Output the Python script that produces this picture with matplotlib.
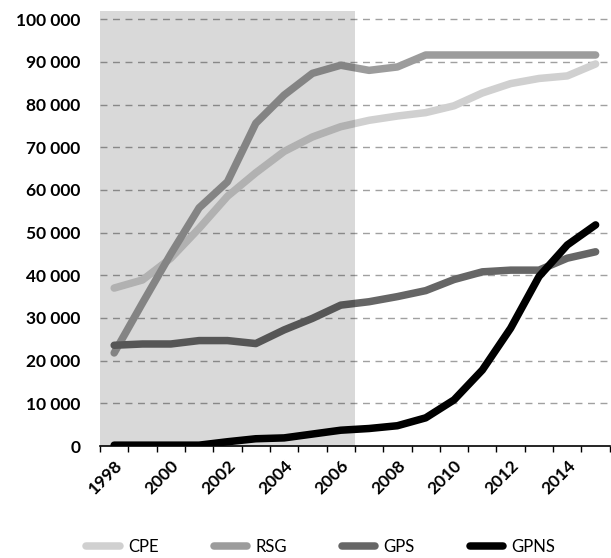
import matplotlib
matplotlib.use("Agg")
import matplotlib.pyplot as plt
import matplotlib.transforms as mtransforms
import numpy as np

years = list(range(1998, 2016))
cpe = [37000, 38900, 44000, 51000, 58500, 64000, 69000, 72400, 74800, 76300,
       77300, 78100, 79700, 82700, 84900, 86100, 86700, 89500]
rsg = [21800, 33500, 45000, 55800, 61900, 75600, 82200, 87300, 89200, 88000,
       88800, 91600, 91600, 91600, 91600, 91600, 91600, 91600]
gps = [23600, 23900, 23900, 24700, 24700, 24000, 27200, 29900, 33000, 33800,
       35000, 36400, 39000, 40800, 41200, 41200, 44000, 45500]
gpns = [200, 200, 200, 200, 1000, 1700, 1900, 2800, 3700, 4100,
        4750, 6600, 10800, 17800, 27600, 39700, 47100, 51800]
series_names = ["CPE", "RSG", "GPS", "GPNS"]
series_colors = ["#d0d0d0", "#9c9c9c", "#666666", "#000000"]
shade_last_year = 2006
y_ticks = list(range(0, 100001, 10000))

plt.rcParams['font.family'] = ['Lato', 'DejaVu Sans']

fig = plt.figure(figsize=(6.11, 5.58), dpi=100)
ax = fig.add_axes([0.1637, 0.2007, 0.8343, 0.7803])

x = np.arange(len(years))
for vals, name, col in zip([cpe, rsg, gps, gpns], series_names, series_colors):
    ax.plot(x, vals, color=col, lw=5.4, solid_capstyle='round',
            solid_joinstyle='round', label=name, zorder=2)

ax.set_xlim(-0.5, len(years) - 0.5)
ax.set_ylim(0, 102000)

# shaded period
ax.axvspan(-0.5, years.index(shade_last_year) + 0.5, color='black', alpha=0.15,
           lw=0, zorder=3)

# grid
for v in y_ticks[1:]:
    ax.axhline(v, color='#a0a0a0', lw=1.0, ls=(0, (5, 4)), zorder=1)

ax.set_yticks(y_ticks)
ax.set_yticklabels([f"{v:,}".replace(",", " ") for v in y_ticks],
                   fontsize=12.5, fontweight='bold')
ax.tick_params(axis='y', length=0, pad=14)

ax.set_xticks(x[::2])
ax.set_xticklabels([str(y) for y in years[::2]], rotation=45, ha='right',
                   rotation_mode='anchor', fontsize=12.5, fontweight='bold')
offset = mtransforms.ScaledTranslation(6 / 100, -9 / 100, fig.dpi_scale_trans)
for lab in ax.get_xticklabels():
    lab.set_transform(lab.get_transform() + offset)
ax.set_xticks(np.arange(-0.5, len(years), 1), minor=True)
ax.tick_params(axis='x', which='major', length=0, pad=8)
ax.tick_params(axis='x', which='minor', length=4, width=1, direction='out',
               color='black')

for s in ['left', 'right', 'top']:
    ax.spines[s].set_visible(False)
ax.spines['bottom'].set_color('black')
ax.spines['bottom'].set_linewidth(1.2)
ax.spines['bottom'].set_zorder(4)

leg = fig.legend(loc='center', bbox_to_anchor=(0.525, 0.02), ncol=4,
                 frameon=False, fontsize=12, handlelength=2.0,
                 handletextpad=0.5, columnspacing=3.3)

fig.savefig("out.png", dpi=100)
